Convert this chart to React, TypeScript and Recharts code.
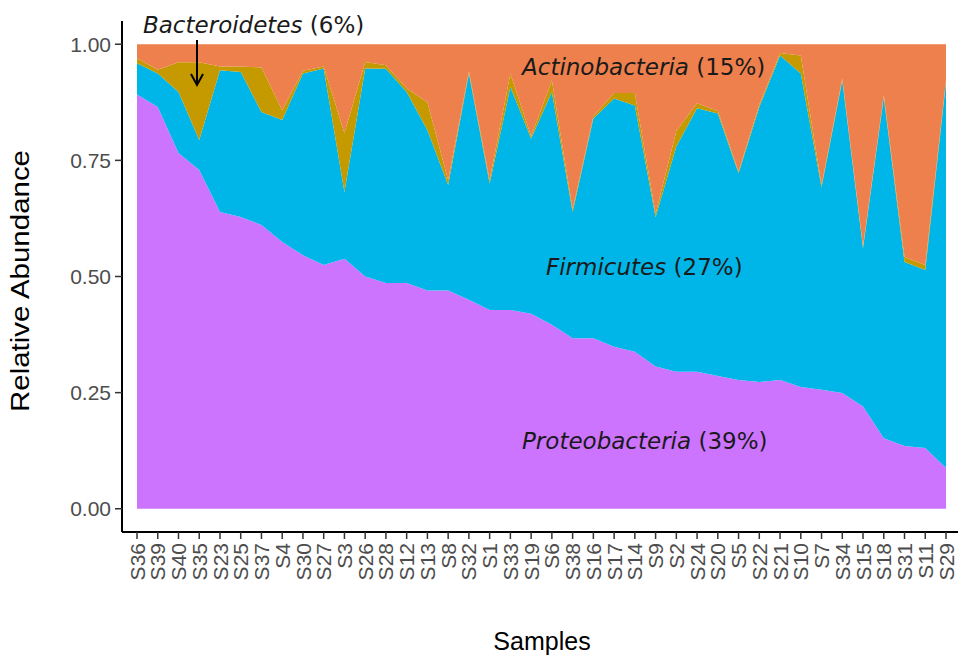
import { AreaChart, Area, XAxis, YAxis } from "recharts"

const samples = [
  "S36", "S39", "S40", "S35", "S23", "S25", "S37", "S4", "S30", "S27",
  "S3", "S26", "S28", "S12", "S13", "S8", "S32", "S1", "S33", "S19",
  "S6", "S38", "S16", "S17", "S14", "S9", "S2", "S24", "S20", "S5",
  "S22", "S21", "S10", "S7", "S34", "S15", "S18", "S31", "S11", "S29",
]

const proteobacteria = [
  0.892, 0.865, 0.766, 0.729, 0.639, 0.628, 0.611, 0.574, 0.546, 0.525,
  0.538, 0.5, 0.486, 0.486, 0.47, 0.47, 0.45, 0.428, 0.428, 0.42,
  0.396, 0.367, 0.367, 0.349, 0.338, 0.306, 0.295, 0.295, 0.286, 0.277,
  0.273, 0.277, 0.262, 0.256, 0.249, 0.22, 0.152, 0.135, 0.131, 0.088,
]

const firmicutes = [
  0.067, 0.072, 0.131, 0.065, 0.305, 0.312, 0.243, 0.263, 0.391, 0.423,
  0.144, 0.448, 0.461, 0.411, 0.345, 0.227, 0.487, 0.272, 0.48, 0.377,
  0.501, 0.272, 0.473, 0.534, 0.53, 0.322, 0.485, 0.567, 0.565, 0.445,
  0.592, 0.699, 0.675, 0.436, 0.673, 0.341, 0.734, 0.396, 0.383, 0.83,
]

const bacteroidetes = [
  0.011, 0.008, 0.064, 0.167, 0.008, 0.012, 0.096, 0.021, 0.006, 0.004,
  0.127, 0.014, 0.008, 0.008, 0.06, 0.01, 0.005, 0.008, 0.029, 0.005,
  0.025, 0.006, 0.005, 0.012, 0.027, 0.007, 0.033, 0.011, 0.005, 0.004,
  0.005, 0.005, 0.039, 0.005, 0.004, 0.004, 0.004, 0.011, 0.011, 0.004,
]

const actinobacteria = [
  0.03, 0.055, 0.039, 0.039, 0.048, 0.048, 0.05, 0.142, 0.057, 0.048,
  0.191, 0.038, 0.045, 0.095, 0.125, 0.293, 0.058, 0.292, 0.063, 0.198,
  0.078, 0.355, 0.155, 0.105, 0.105, 0.365, 0.187, 0.127, 0.144, 0.274,
  0.13, 0.019, 0.024, 0.303, 0.074, 0.435, 0.11, 0.458, 0.475, 0.078,
]

const yTicks = [0, 0.25, 0.5, 0.75, 1]

const data = samples.map((s, i) => ({
  sample: s,
  Proteobacteria: proteobacteria[i],
  Firmicutes: firmicutes[i],
  Bacteroidetes: bacteroidetes[i],
  Actinobacteria: actinobacteria[i],
}))

const tickFont = "'Liberation Sans', Arial, sans-serif"
const noteFont = "'DejaVu Sans', Verdana, sans-serif"

const SampleTick = (props: any) => {
  const { x, y, payload } = props
  return (
    <g transform={`translate(${x},${y})`}>
      <text
        transform="rotate(-90)"
        textAnchor="end"
        dy="0.36em"
        fontSize={21}
        fontFamily={tickFont}
        fill="#4d4d4d"
      >
        {payload.value}
      </text>
    </g>
  )
}

// labels, arrow and axis titles drawn on top of the chart
const Notes = () => (
  <svg
    width={968}
    height={664}
    style={{ position: "absolute", left: 0, top: 0, pointerEvents: "none" }}
  >
    <g fontFamily={noteFont} fontSize={23} fill="#1a1a1a">
      <text x={143} y={33}>
        <tspan fontStyle="italic">Bacteroidetes</tspan>
        {" (6%)"}
      </text>
      <line x1={197} y1={40} x2={197} y2={84} stroke="#000" strokeWidth={2} />
      <path d="M191,74 L197,85 L203,74" stroke="#000" strokeWidth={2} fill="none" />
      <text x={522} y={75}>
        <tspan fontStyle="italic">Actinobacteria</tspan>
        {" (15%)"}
      </text>
      <text x={546} y={275}>
        <tspan fontStyle="italic">Firmicutes</tspan>
        {" (27%)"}
      </text>
      <text x={522} y={449}>
        <tspan fontStyle="italic">Proteobacteria</tspan>
        {" (39%)"}
      </text>
    </g>
    <text
      x={542}
      y={650}
      textAnchor="middle"
      fontFamily={tickFont}
      fontSize={25}
      fill="#000"
    >
      Samples
    </text>
    <text
      transform="translate(29,281) rotate(-90)"
      textAnchor="middle"
      fontFamily={tickFont}
      fontSize={25}
      fill="#000"
      textLength={262}
      lengthAdjust="spacingAndGlyphs"
    >
      Relative Abundance
    </text>
  </svg>
)

export default function App() {
  return (
    <div style={{ position: "absolute", left: 0, top: 0, width: 968, height: 664, background: "#fff" }}>
      <AreaChart
        width={968}
        height={664}
        data={data}
        margin={{ top: 21, right: 10, left: 0, bottom: 0 }}
      >
        <XAxis
          dataKey="sample"
          interval={0}
          height={132}
          padding={{ left: 15, right: 12 }}
          tick={<SampleTick />}
          tickSize={7}
          tickMargin={4}
          axisLine={{ stroke: "#000", strokeWidth: 2 }}
          tickLine={{ stroke: "#333", strokeWidth: 1.5 }}
        />
        <YAxis
          width={122}
          domain={[-0.05, 1.05]}
          ticks={yTicks}
          tickFormatter={(v: number) => v.toFixed(2)}
          tickSize={7}
          tickMargin={4}
          tick={{ fontSize: 21, fontFamily: tickFont, fill: "#4d4d4d" }}
          axisLine={{ stroke: "#000", strokeWidth: 2 }}
          tickLine={{ stroke: "#333", strokeWidth: 1.5 }}
        />
        <Area type="linear" dataKey="Proteobacteria" stackId="1" stroke="none" fill="#cd74ff" fillOpacity={1} isAnimationActive={false} />
        <Area type="linear" dataKey="Firmicutes" stackId="1" stroke="none" fill="#00b6e8" fillOpacity={1} isAnimationActive={false} />
        <Area type="linear" dataKey="Bacteroidetes" stackId="1" stroke="none" fill="#c49a00" fillOpacity={1} isAnimationActive={false} />
        <Area type="linear" dataKey="Actinobacteria" stackId="1" stroke="none" fill="#ed804c" fillOpacity={1} isAnimationActive={false} />
      </AreaChart>
      <Notes />
    </div>
  )
}
